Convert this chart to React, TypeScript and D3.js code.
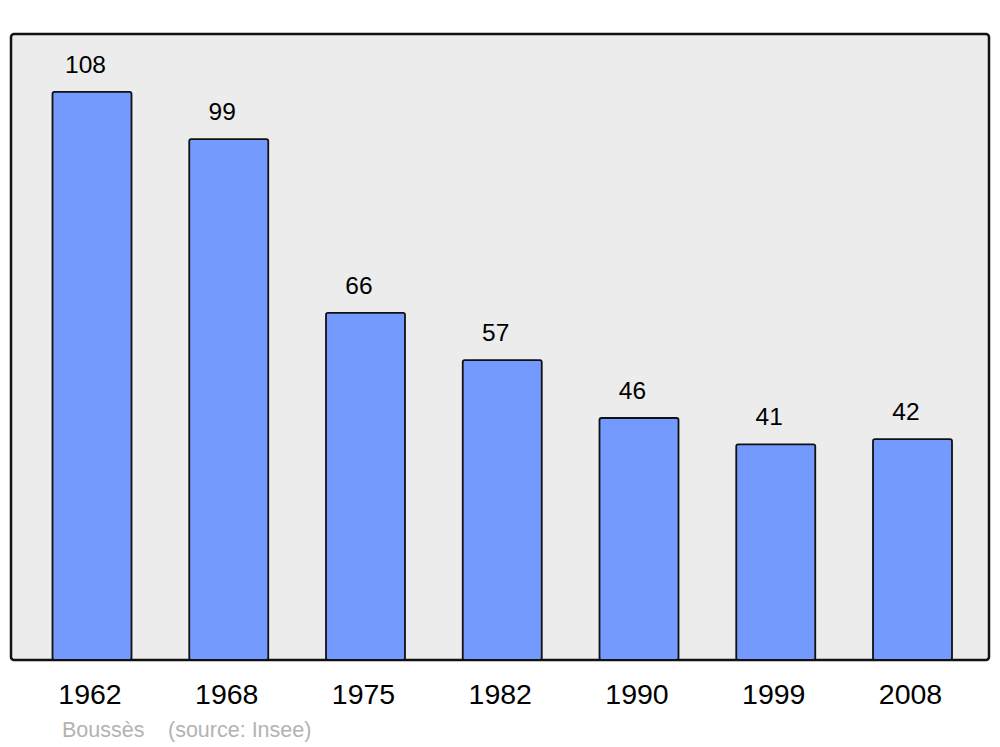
import React from "react";
import * as d3 from "d3";

const years = ["1962", "1968", "1975", "1982", "1990", "1999", "2008"];
const population = [108, 99, 66, 57, 46, 41, 42];
const placeName = "Boussès";
const sourceLabel = "(source: Insee)";

export default function App() {
  const W = 1000, H = 747;
  const panel = { x: 11, y: 34, w: 978, h: 626 };
  const x = d3.scalePoint<string>().domain(years).range([92, 912.5]);
  const barW = 79;
  const y = d3.scaleLinear().domain([0, 119]).range([panel.y + panel.h, panel.y]);
  const font = "'Liberation Sans', Arial, sans-serif";
  return (
    <svg width={W} height={H} style={{ position: "absolute", left: 0, top: 0 }} fontFamily={font}>
      <rect x={0} y={0} width={W} height={H} fill="#ffffff" />
      <rect x={panel.x} y={panel.y} width={panel.w} height={panel.h} rx={3} fill="#ececec" stroke="#111" strokeWidth={2.5} />
      {years.map((yr, i) => {
        const cx = x(yr)!;
        const top = y(population[i]);
        const base = y(0);
        return (
          <g key={yr}>
            <rect x={cx - barW / 2} y={top} width={barW} height={base - top} rx={2} fill="#7499ff" stroke="#111" strokeWidth={1.8} />
            <text x={cx - 6.5} y={top - 19} textAnchor="middle" fontSize={24.5} fill="#000">{population[i]}</text>
            <text x={cx - 2} y={704} textAnchor="middle" fontSize={28.5} fill="#000">{yr}</text>
          </g>
        );
      })}
      <text x={62} y={737} fontSize={21.5} fill="#b3b3b3">{placeName}</text>
      <text x={168} y={737} fontSize={21.5} fill="#b3b3b3">{sourceLabel}</text>
    </svg>
  );
}
